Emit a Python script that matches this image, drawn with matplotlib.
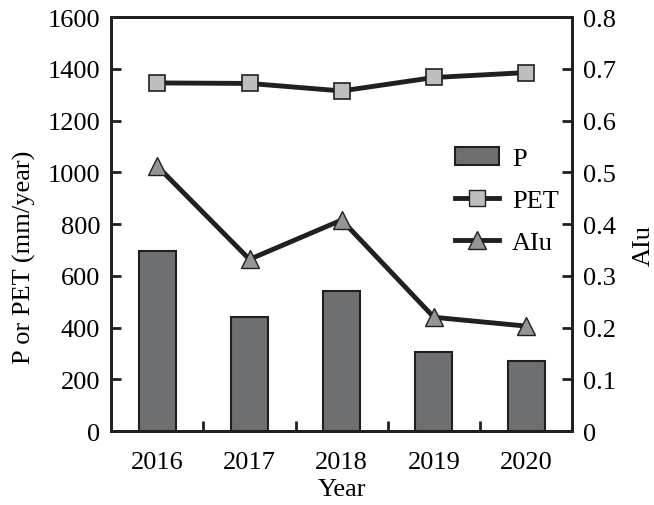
import matplotlib
matplotlib.use("Agg")
import matplotlib.pyplot as plt
from matplotlib.patches import Patch
from matplotlib.lines import Line2D

years = ["2016", "2017", "2018", "2019", "2020"]
p_values = [696, 442, 542, 304, 273]
pet_values = [1346, 1344, 1315, 1367, 1386]
aiu_values = [0.512, 0.332, 0.408, 0.220, 0.203]

plt.rcParams['font.family'] = ['Liberation Serif', 'DejaVu Serif']
plt.rcParams['font.size'] = 19

dark = "#231f20"
bar_color = "#6d6f71"

fig = plt.figure(figsize=(6.54, 5.06), dpi=100)
ax = fig.add_axes([0.170, 0.146, 0.705, 0.818])
ax2 = ax.twinx()

x = list(range(len(years)))
ax.bar(x, p_values, width=0.4, color=bar_color, edgecolor=dark, linewidth=1.5, zorder=2)
ax.plot(x, pet_values, color=dark, linewidth=3.5, marker="s", markersize=12,
        markerfacecolor="#bcbec0", markeredgecolor=dark, markeredgewidth=1.2, zorder=3)
ax2.plot(x, aiu_values, color=dark, linewidth=3.5, marker="^", markersize=13,
         markerfacecolor="#939598", markeredgecolor=dark, markeredgewidth=1.0, zorder=3)

ax.set_xlim(-0.5, 4.5)
ax.set_ylim(0, 1600)
ax.set_yticks(range(0, 1601, 200))
ax2.set_ylim(0, 0.8)
ax2.set_yticks([i / 10 for i in range(9)])
ax2.set_yticklabels(["0"] + [f"{i / 10:.1f}" for i in range(1, 9)])

ax.set_xticks(x)
ax.set_xticklabels(years)
ax.set_xticks([0.5, 1.5, 2.5, 3.5], minor=True)
ax.tick_params(axis="x", which="major", length=0, pad=14)
ax.tick_params(axis="x", which="minor", direction="in", length=7, width=2, color=dark)
ax.tick_params(axis="y", direction="in", length=7, width=2, color=dark, pad=8)
ax2.tick_params(axis="y", direction="in", length=7, width=2, color=dark, pad=8)

for a in (ax, ax2):
    for s in a.spines.values():
        s.set_linewidth(2)
        s.set_color(dark)

ax.set_xlabel("Year", labelpad=4)
ax.set_ylabel("P or PET (mm/year)")
ax.yaxis.set_label_coords(-0.163, 0.423)
ax2.set_ylabel("AIu")
ax2.yaxis.set_label_coords(1.132, 0.452)

handles = [
    Patch(facecolor=bar_color, edgecolor=dark, linewidth=1.5),
    Line2D([], [], color=dark, linewidth=3.5, marker="s", markersize=12,
           markerfacecolor="#bcbec0", markeredgecolor=dark),
    Line2D([], [], color=dark, linewidth=3.5, marker="^", markersize=13,
           markerfacecolor="#939598", markeredgecolor=dark),
]
ax2.legend(handles, ["P", "PET", "AIu"], loc="upper left", bbox_to_anchor=(0.695, 0.745),
           frameon=False, handlelength=1.65, handletextpad=0.5, labelspacing=0.7)

fig.savefig("out.png", dpi=100)
